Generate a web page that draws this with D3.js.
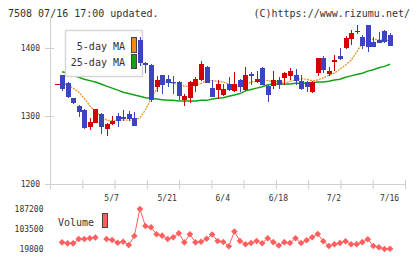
<!DOCTYPE html>
<html>
<head>
<meta charset="utf-8">
<script src="https://cdn.jsdelivr.net/npm/d3@7"></script>
<style>
  body { margin: 0; background: #fff; }
  svg { display: block; }
  text { font-family: "DejaVu Sans Mono", monospace; fill: #333; }
</style>
</head>
<body>
<div id="chart"></div>
<script>
// header
const titleText = "7508 07/16 17:00 updated.";
const creditText = "(C)https://www.rizumu.net/";

// daily candles (index 0 .. 60)
const open  = [1347,1360,1349,1326,1315,1309,1284,1290,1303,1281,1288,1300,1299,1303,1297,1412,1378,1375,1343,1360,
               1355,1350,1350,1324,1327,1344,1353,1372,1341,1338,1331,1347,1337,1353,1338,1362,1350,1371,1344,1344,
               1353,1356,1359,1360,1352,1350,1335,1363,1385,1362,1380,1388,1400,1413,1424,1416,1434,1409,1412,1425,1419];
const high  = [1347,1361,1350,1327,1316,1310,1297,1311,1304,1290,1300,1305,1309,1307,1306,1416,1379,1376,1359,1361,
               1360,1359,1351,1332,1351,1358,1381,1373,1353,1353,1347,1357,1365,1355,1372,1364,1366,1372,1345,1366,
               1357,1364,1371,1369,1360,1351,1351,1386,1388,1372,1390,1400,1418,1427,1434,1419,1434,1416,1424,1426,1422];
const low   = [1347,1337,1326,1317,1299,1281,1279,1289,1273,1270,1287,1284,1292,1292,1285,1373,1363,1321,1336,1333,
               1343,1333,1324,1314,1319,1336,1352,1348,1328,1325,1329,1337,1336,1336,1337,1346,1348,1345,1321,1339,
               1340,1346,1353,1346,1338,1336,1334,1359,1363,1359,1366,1382,1399,1404,1421,1399,1394,1401,1407,1407,1403];
const close = [1347,1340,1328,1319,1306,1282,1291,1310,1284,1288,1293,1292,1296,1296,1286,1378,1375,1324,1353,1345,
               1349,1349,1330,1330,1350,1354,1377,1349,1328,1347,1340,1338,1347,1343,1360,1359,1354,1346,1331,1353,
               1346,1363,1366,1352,1340,1343,1350,1385,1368,1366,1382,1384,1415,1422,1425,1403,1402,1402,1407,1409,1403];

// moving averages
const ma5  = [null,1348,1346,1341,1335,1326,1315,1306,1300,1294,1293,1293,1294,1294,1294,1297,1309,1325,1340,1350,
              1350,1348,1346,1344,1344,1346,1348,1352,1352,1351,1350,1347,1343,1343,1346,1350,1351,1353,1352,1351,
              1351,1348,1351,1353,1355,1354,1352,1353,1356,1360,1363,1369,1375,1382,1394,1407,1412,1413,1412,1412,1410];
const ma25 = [null,1365,1363,1360,1357,1354,1352,1350,1347,1344,1341,1338,1335,1333,1331,1329,1327,1326,1325,1324,
              1323,1323,1322,1322,1322,1322,1323,1323,1325,1326,1327,1329,1331,1333,1337,1339,1341,1343,1346,1347,
              1347,1347,1347,1348,1348,1348,1349,1350,1350,1351,1353,1354,1357,1359,1361,1363,1366,1368,1371,1373,1376];

// volume
const volume = [null,47800,43600,43600,61600,61600,64600,67900,null,61600,57500,46200,50300,36500,74200,187200,116000,110600,81300,75500,
                61600,68800,85500,47800,81300,47800,50300,62900,80500,53300,49100,31100,93000,53300,39500,44900,53300,44100,64600,48300,
                34400,48300,44900,64600,44900,56200,69200,82600,52400,32400,39500,44900,52000,39500,39900,48300,60800,32400,26900,19800,21000];

const tickLabels = ["5/7", "5/21", "6/4", "6/18", "7/2", "7/16"];
const tickIndex  = [10, 20, 30, 40, 50, 60];
const priceTicks = [1200, 1300, 1400];
const volumeTicks = [19800, 103500, 187200];

const width = 420, height = 259;
const upColor = "#d40000", downColor = "#3c44bf";
const axisColor = "#cfcfcf";

const svg = d3.select("#chart").append("svg")
  .attr("width", width)
  .attr("height", height);

const days = d3.range(open.length);
const x = d3.scalePoint().domain(days).range([56.5, 390]);
const y = d3.scaleLinear().domain([1200, 1400]).range([184, 48]);
const yVol = d3.scaleLinear().domain([19800, 187200]).range([249, 209]);
const gridX = d3.scaleLinear().domain([0, 11]).range([50, 405]);

// header
svg.append("text").attr("x", 8).attr("y", 17).style("font-size", "10px").text(titleText);
svg.append("text").attr("x", 410).attr("y", 17).attr("text-anchor", "end").style("font-size", "10px").text(creditText);

function styleAxis(g) {
  g.select(".domain").remove();
  g.selectAll("line").attr("stroke", axisColor);
  g.selectAll("text")
    .style("font-family", "'DejaVu Sans Mono', monospace")
    .style("font-size", "8px")
    .attr("fill", "#333");
}

// y axis
svg.append("g")
  .attr("transform", "translate(54,0)")
  .call(d3.axisLeft(y).tickValues(priceTicks).tickFormat(d3.format("d"))
    .tickSizeInner(9).tickSizeOuter(0).tickPadding(5))
  .call(styleAxis);

svg.append("line")
  .attr("x1", 50.5).attr("x2", 50.5).attr("y1", 18).attr("y2", 189)
  .attr("stroke", axisColor);

// x axis: baseline, ticks and labels
svg.append("line")
  .attr("x1", 45).attr("x2", 405).attr("y1", 184.5).attr("y2", 184.5)
  .attr("stroke", axisColor);

svg.append("g")
  .attr("transform", "translate(0,180)")
  .call(d3.axisBottom(gridX).tickValues(d3.range(12)).tickSizeInner(9).tickSizeOuter(0).tickFormat(""))
  .call(styleAxis);

svg.append("g")
  .attr("transform", "translate(-1,184)")
  .call(d3.axisBottom(x).tickValues(tickIndex).tickSize(0).tickPadding(11)
    .tickFormat((d) => tickLabels[tickIndex.indexOf(d)]))
  .call(styleAxis);

// volume axis labels
svg.append("g")
  .attr("transform", "translate(43.5,0)")
  .call(d3.axisLeft(yVol).tickValues(volumeTicks).tickFormat(d3.format("d")).tickSize(0).tickPadding(0))
  .call(styleAxis);

// moving averages
const maLine = (arr) => d3.line()
  .defined((d) => arr[d] != null)
  .x((d) => x(d))
  .y((d) => y(arr[d]))(days);

svg.append("path")
  .attr("d", maLine(ma25))
  .attr("fill", "none")
  .attr("stroke", "#16a016")
  .attr("stroke-width", 1.5);

svg.append("path")
  .attr("d", maLine(ma5))
  .attr("fill", "none")
  .attr("stroke", "#f08c10")
  .attr("stroke-width", 1.2)
  .attr("stroke-dasharray", "2,1");

// legend
const legend = svg.append("g").attr("class", "legend");
legend.append("rect")
  .attr("x", 65.5).attr("y", 30.5).attr("width", 77).attr("height", 46)
  .attr("fill", "#fff").attr("stroke", "#d6d6d6").attr("stroke-width", 1.5);
legend.append("text").attr("x", 125).attr("y", 50).attr("text-anchor", "end")
  .style("font-size", "10px").text("5-day MA");
legend.append("text").attr("x", 125).attr("y", 66).attr("text-anchor", "end")
  .style("font-size", "10px").text("25-day MA");
legend.append("rect").attr("x", 131.5).attr("y", 37.5).attr("width", 5).attr("height", 15)
  .attr("fill", "#f08c10").attr("stroke", "#444");
legend.append("rect").attr("x", 131.5).attr("y", 54.5).attr("width", 5).attr("height", 14)
  .attr("fill", "#16a016").attr("stroke", "#444");

// candles
const candles = svg.append("g").attr("class", "candles").attr("shape-rendering", "crispEdges");
const col = (i) => close[i] >= open[i] ? upColor : downColor;

candles.selectAll("line")
  .data(days)
  .join("line")
  .attr("x1", (i) => Math.round(x(i)) + 0.5)
  .attr("x2", (i) => Math.round(x(i)) + 0.5)
  .attr("y1", (i) => y(high[i]))
  .attr("y2", (i) => y(low[i]))
  .attr("stroke", col);

candles.selectAll("rect")
  .data(days)
  .join("rect")
  .attr("x", (i) => Math.round(x(i)) - 2)
  .attr("width", 5)
  .attr("y", (i) => y(Math.max(open[i], close[i])))
  .attr("height", (i) => Math.max(1, y(Math.min(open[i], close[i])) - y(Math.max(open[i], close[i]))))
  .attr("fill", col);

// volume panel
const volColor = "#ff5f5f";
svg.append("path")
  .attr("d", d3.line()
    .defined((d) => volume[d] != null)
    .x((d) => x(d))
    .y((d) => yVol(volume[d]))(days))
  .attr("fill", "none")
  .attr("stroke", volColor)
  .attr("stroke-width", 1);

svg.append("g")
  .selectAll("path")
  .data(days.filter((i) => volume[i] != null))
  .join("path")
  .attr("d", d3.symbol(d3.symbolSquare, 22))
  .attr("transform", (i) => `translate(${x(i)},${yVol(volume[i])}) rotate(45)`)
  .attr("fill", volColor);

svg.append("text").attr("x", 58).attr("y", 225.5).style("font-size", "10px").text("Volume");
svg.append("rect").attr("x", 102.5).attr("y", 213.5).attr("width", 5).attr("height", 14)
  .attr("fill", volColor).attr("stroke", "#444");
</script>
</body>
</html>
